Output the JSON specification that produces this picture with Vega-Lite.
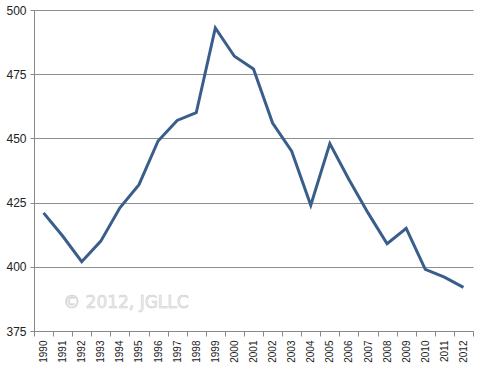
{
  "$schema": "https://vega.github.io/schema/vega-lite/v6.json",
  "width": 439,
  "height": 321,
  "autosize": "none",
  "padding": {"left": 34, "top": 10, "right": 7, "bottom": 34},
  "background": "white",
  "config": {
    "view": {"stroke": null},
    "font": "Liberation Sans"
  },
  "data": {
    "values": [
      {"year": "1990", "value": 421},
      {"year": "1991", "value": 412},
      {"year": "1992", "value": 402},
      {"year": "1993", "value": 410},
      {"year": "1994", "value": 423},
      {"year": "1995", "value": 432},
      {"year": "1996", "value": 449},
      {"year": "1997", "value": 457},
      {"year": "1998", "value": 460},
      {"year": "1999", "value": 493},
      {"year": "2000", "value": 482},
      {"year": "2001", "value": 477},
      {"year": "2002", "value": 456},
      {"year": "2003", "value": 445},
      {"year": "2004", "value": 424},
      {"year": "2005", "value": 448},
      {"year": "2006", "value": 434},
      {"year": "2007", "value": 421},
      {"year": "2008", "value": 409},
      {"year": "2009", "value": 415},
      {"year": "2010", "value": 399},
      {"year": "2011", "value": 396},
      {"year": "2012", "value": 392}
    ]
  },
  "encoding": {
    "x": {
      "field": "year",
      "type": "ordinal",
      "scale": {"type": "band", "paddingInner": 0, "paddingOuter": 0},
      "axis": {
        "title": null,
        "labelAngle": 270,
        "labelAlign": "right",
        "labelBaseline": "middle",
        "labelFontSize": 10,
        "labelColor": "#222",
        "labelPadding": 4,
        "tickBand": "extent",
        "tickSize": 5,
        "tickColor": "#888",
        "domainColor": "#888",
        "grid": false
      }
    },
    "y": {
      "field": "value",
      "type": "quantitative",
      "scale": {"domain": [375, 500], "nice": false, "zero": false},
      "axis": {
        "title": null,
        "values": [375, 400, 425, 450, 475, 500],
        "labelFontSize": 12,
        "labelColor": "#222",
        "labelPadding": 4,
        "tickSize": 4,
        "tickColor": "#888",
        "domainColor": "#888",
        "gridColor": "#8e8e8e",
        "gridOpacity": 1
      }
    }
  },
  "layer": [
    {
      "mark": {"type": "line", "color": "#3A5E8B", "strokeWidth": 3, "strokeJoin": "miter"}
    },
    {
      "data": {"values": [{"label": "© 2012, JGLLC", "yr": "1994", "v": 386}]},
      "mark": {"type": "text", "font": "DejaVu Sans", "fontSize": 17, "fill": "#f0f0f0", "stroke": "#c8c8c8", "strokeWidth": 0.5, "align": "center", "baseline": "middle", "dx": 6},
      "encoding": {
        "x": {"field": "yr", "type": "ordinal"},
        "y": {"field": "v", "type": "quantitative"},
        "text": {"field": "label"}
      }
    }
  ]
}
